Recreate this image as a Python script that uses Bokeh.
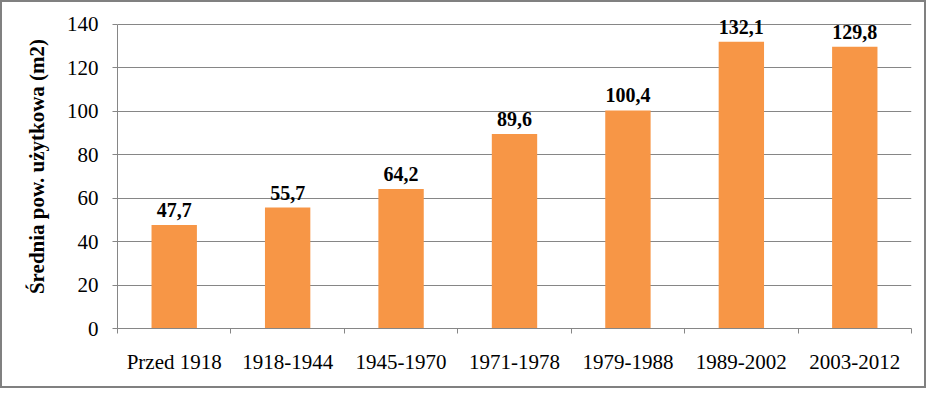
from bokeh.plotting import figure
from bokeh.models import ColumnDataSource, FixedTicker, Range1d, LabelSet
from bokeh.embed import file_html
from bokeh.resources import INLINE

categories = ["Przed 1918", "1918-1944", "1945-1970", "1971-1978",
              "1979-1988", "1989-2002", "2003-2012"]
values = [47.7, 55.7, 64.2, 89.6, 100.4, 132.1, 129.8]
y_ticks = [0, 20, 40, 60, 80, 100, 120, 140]

n = len(categories)
xs = [i + 0.5 for i in range(n)]
labels = [f"{v:.1f}".replace(".", ",") for v in values]
src = ColumnDataSource(dict(x=xs, top=values, label=labels))

FONT = "Liberation Serif"
GRID = "#868686"

# y range extends a little above 140 so value labels are not clipped;
# axis and grid are bounded to 0..140
p = figure(width=926, height=388, output_backend="svg", toolbar_location=None,
           x_range=Range1d(0, n), y_range=Range1d(0, 149.2),
           min_border_left=115, min_border_right=17,
           min_border_top=2, min_border_bottom=62)
p.styles = {"border": "2px solid #808080"}
p.outline_line_color = None
p.background_fill_color = "white"
p.border_fill_color = "white"

p.vbar(x="x", top="top", width=0.4, bottom=0, source=src,
       fill_color="#F79646", line_color=None)

p.add_layout(LabelSet(x="x", y="top", text="label", source=src,
                      text_align="center", text_baseline="bottom", y_offset=8,
                      text_font=FONT, text_font_style="bold",
                      text_font_size="20px", text_color="black"))

# x axis: labels at category centres, ticks at boundaries
xa = p.xaxis[0]
xa.ticker = FixedTicker(ticks=xs, minor_ticks=list(range(n + 1)))
xa.major_label_overrides = {x: c for x, c in zip(xs, categories)}
xa.major_tick_line_color = None
xa.major_tick_out = 5
xa.major_tick_in = 0
xa.minor_tick_line_color = GRID
xa.minor_tick_out = 5
xa.minor_tick_in = 0
xa.axis_line_color = GRID
xa.major_label_standoff = 16
xa.major_label_text_font = FONT
xa.major_label_text_font_size = "21px"
xa.major_label_text_color = "black"

ya = p.yaxis[0]
ya.bounds = (0, 140)
ya.ticker = FixedTicker(ticks=y_ticks, minor_ticks=[])
ya.major_tick_line_color = GRID
ya.major_tick_out = 5
ya.major_tick_in = 0
ya.minor_tick_line_color = None
ya.axis_line_color = GRID
ya.major_label_standoff = 14
ya.major_label_text_font = FONT
ya.major_label_text_font_size = "21px"
ya.major_label_text_color = "black"
ya.axis_label = "Średnia pow. użytkowa (m2)"
ya.axis_label_text_font = FONT
ya.axis_label_text_font_style = "bold"
ya.axis_label_text_font_size = "21px"
ya.axis_label_text_color = "black"
ya.axis_label_standoff = 15

p.xgrid.grid_line_color = None
p.ygrid.grid_line_color = GRID
p.ygrid.ticker = FixedTicker(ticks=y_ticks)
p.ygrid.bounds = (0, 140)

open("out.html", "w").write(file_html(p, INLINE))
